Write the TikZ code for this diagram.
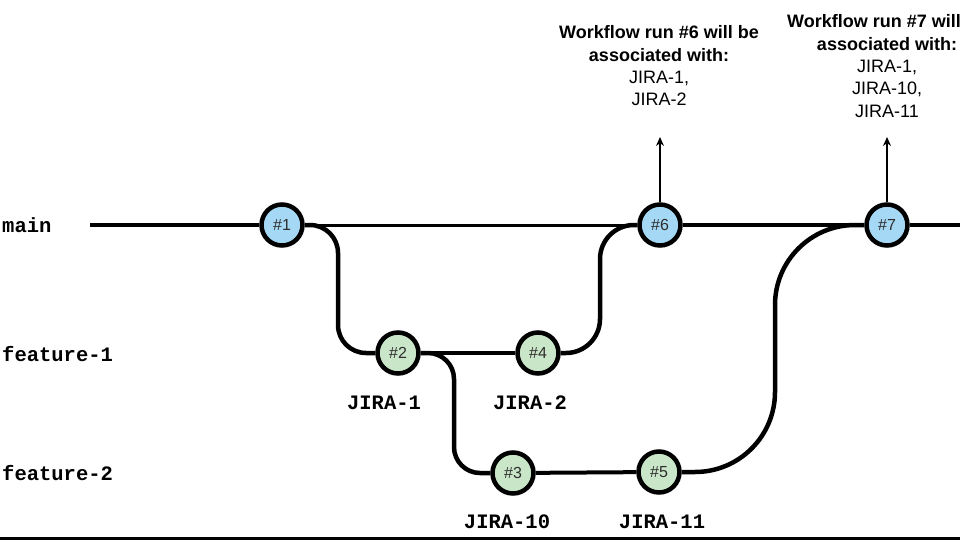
\documentclass[tikz,border=0pt]{standalone}
\usepackage{fontspec}
\setmainfont{Liberation Sans}
\setmonofont{Liberation Mono}
\usepackage{tikz}
\usetikzlibrary{arrows.meta,backgrounds}
\definecolor{mainblue}{RGB}{165,216,245}
\definecolor{featgreen}{RGB}{202,230,200}
\definecolor{numgrey}{RGB}{45,45,45}
\tikzset{
  commit/.style={circle,draw=black,line width=4.5pt,minimum size=41pt,inner sep=0pt,
                 font=\fontsize{16}{18}\selectfont,text=numgrey},
  maincommit/.style={commit,fill=mainblue},
  featcommit/.style={commit,fill=featgreen},
  branchlbl/.style={font=\ttfamily\bfseries\fontsize{20.5}{24}\selectfont,anchor=west,inner sep=0pt},
  jira/.style={font=\ttfamily\bfseries\fontsize{20.5}{24}\selectfont,inner sep=0pt},
  runnote/.style={align=center,font=\fontsize{18}{22.3}\selectfont,inner sep=0pt},
  branch/.style={line width=4.5pt},
  runarrow/.style={-{Stealth[length=9pt,width=8pt]},line width=1.3pt}
}

\begin{document}
\begin{tikzpicture}[x=1pt,y=-1pt]
  \useasboundingbox (0,0) rectangle (960,540);
  \node[branchlbl] (lmain) at (2,225) {main};
  \node[branchlbl] (lfeat1) at (2,354) {feature-1};
  \node[branchlbl] (lfeat2) at (2,473) {feature-2};
  \node[maincommit] (c1) at (282,225) {\#1};
  \node[featcommit] (c2) at (398,353) {\#2};
  \node[featcommit] (c3) at (513,473) {\#3};
  \node[featcommit] (c4) at (538,353) {\#4};
  \node[featcommit] (c5) at (659,472) {\#5};
  \node[maincommit] (c6) at (660,225) {\#6};
  \node[maincommit] (c7) at (887,225) {\#7};
  \node[jira] (j1) at (384,403) {JIRA-1};
  \node[jira] (j2) at (530,403) {JIRA-2};
  \node[jira] (j10) at (507,522) {JIRA-10};
  \node[jira] (j11) at (662,522) {JIRA-11};
  \node[runnote] (run6) at (659,66) {\textbf{Workflow run \#6 will be}\\\textbf{associated with:}\\JIRA-1,\\JIRA-2};
  \node[runnote] (run7) at (887,66) {\textbf{Workflow run \#7 will\phantom{ be}}\\\textbf{associated with:}\\JIRA-1,\\JIRA-10,\\JIRA-11};
  \coordinate (mstart) at (90,225);
  \coordinate (mend) at (960,225);
  \coordinate (tip6) at (660,137);
  \coordinate (tip7) at (887,137);
  \coordinate (bl) at (0,538.5);
  \coordinate (br) at (960,538.5);
  \begin{scope}[on background layer]
    \draw[branch] (mstart) -- (c1);
    \draw[line width=3pt] (c1) -- (c6);
    \draw[line width=3.5pt] (c6) -- (c7);
    \draw[branch] (c7) -- (mend);
    \draw[line width=3.5pt] (c2) -- (c4);
    \draw[line width=4pt] (c3) -- (c5);
    \draw[branch,rounded corners=28pt] (c1) -- ++(56,0) |- (c2);
    \draw[branch,rounded corners=26pt] (c2) -- ++(56,0) |- (c3);
    \draw[branch,rounded corners=34pt] (c4) -- ++(62,0) |- (c6);
    \draw[branch,rounded corners=80pt] (c5) -- ++(116,0) |- (c7);
  \end{scope}
  \draw[runarrow] (c6.north) -- (tip6);
  \draw[runarrow] (c7.north) -- (tip7);
  \draw[line width=3pt] (bl) -- (br);
\end{tikzpicture}
\end{document}
